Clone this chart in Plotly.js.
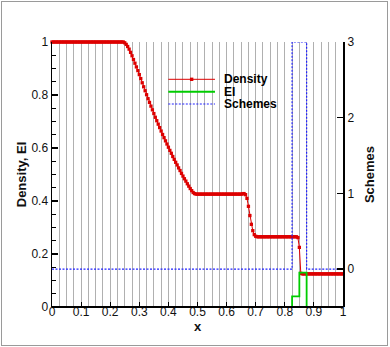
<!DOCTYPE html>
<html>
<head>
<meta charset="utf-8">
<script src="https://cdn.plot.ly/plotly-3.0.1.min.js"></script>
<style>
  html, body { margin: 0; padding: 0; background: #fff; }
  #wrap { position: relative; width: 390px; height: 347px; }
  #chart { width: 390px; height: 347px; }
  #frame { position: absolute; left: 1px; top: 1px; width: 385px; height: 343px; border: 1px solid #9a9a9a; pointer-events: none; }
</style>
</head>
<body>
<div id="wrap">
  <div id="chart"></div>
  <div id="frame"></div>
</div>
<script>
// Density on a uniform grid, x0 = 0, dx = 0.005 (201 cells)
const density = [
  1, 1, 1, 1, 1, 1, 1, 1, 1, 1,
  1, 1, 1, 1, 1, 1, 1, 1, 1, 1,
  1, 1, 1, 1, 1, 1, 1, 1, 1, 1,
  1, 1, 1, 1, 1, 1, 1, 1, 1, 1,
  1, 1, 1, 1, 1, 1, 1, 1, 1,
  1.0, 0.997, 0.991, 0.983, 0.973, 0.961, 0.948, 0.934, 0.920, 0.906,
  0.892, 0.877, 0.862, 0.846, 0.831, 0.816, 0.801, 0.786, 0.772, 0.758,
  0.744, 0.730, 0.716, 0.703, 0.690, 0.677, 0.664, 0.651, 0.639, 0.627,
  0.615, 0.603, 0.591, 0.580, 0.568, 0.557, 0.546, 0.536, 0.525, 0.515,
  0.504, 0.494, 0.484, 0.475, 0.465, 0.456, 0.447, 0.439, 0.432, 0.428,
  0.426,
  0.426, 0.426, 0.426, 0.426, 0.426, 0.426, 0.426, 0.426, 0.426, 0.426,
  0.426, 0.426, 0.426, 0.426, 0.426, 0.426, 0.426, 0.426, 0.426, 0.426,
  0.426, 0.426, 0.426, 0.426, 0.426, 0.426, 0.426, 0.426, 0.426, 0.426,
  0.426,
  0.427, 0.428, 0.424, 0.410, 0.380, 0.345, 0.312, 0.288, 0.273, 0.267,
  0.265, 0.265, 0.265, 0.265, 0.265, 0.265, 0.265, 0.265, 0.265, 0.265,
  0.265, 0.265, 0.265, 0.265, 0.265, 0.265, 0.265, 0.265, 0.265, 0.265,
  0.265, 0.265, 0.265, 0.265, 0.265, 0.265, 0.265, 0.265,
  0.262, 0.225, 0.127,
  0.125, 0.125, 0.125, 0.125, 0.125, 0.125, 0.125, 0.125, 0.125, 0.125,
  0.125, 0.125, 0.125, 0.125, 0.125, 0.125, 0.125, 0.125, 0.125, 0.125,
  0.125, 0.125, 0.125, 0.125, 0.125, 0.125, 0.125, 0.125, 0.125
];

// EI indicator (step values)
const eiX = [0, 0.825, 0.85, 0.875, 1];
const ei = [0, 0.04, 0.13, 0, 0];

// Scheme switch (step values, right axis)
const schemesX = [0, 0.825, 0.875, 1];
const schemes = [0, 3, 0, 0];

const xTicks = [0, 0.1, 0.2, 0.3, 0.4, 0.5, 0.6, 0.7, 0.8, 0.9, 1];

const RED = '#dd0000';
const GREEN = '#00cc00';
const BLUE = '#2222ff';
const FONT = 'Liberation Sans, Arial, Helvetica, sans-serif';

const traces = [
    {
        y: density, x0: 0, dx: 0.005,
        type: 'scatter', mode: 'lines+markers', name: 'Density',
        line: { color: RED, width: 1 },
        marker: { symbol: 'square', size: 3.3, color: RED },
        cliponaxis: false,
        xaxis: 'x', yaxis: 'y'
    },
    {
        x: eiX, y: ei,
        type: 'scatter', mode: 'lines', name: 'EI',
        line: { color: GREEN, width: 1.8, shape: 'hv' },
        xaxis: 'x', yaxis: 'y'
    },
    {
        x: schemesX, y: schemes,
        type: 'scatter', mode: 'lines', name: 'Schemes',
        line: { color: BLUE, width: 1.2, shape: 'hv', dash: '2px,1.5px' },
        xaxis: 'x', yaxis: 'y2'
    }
];

// hand-drawn legend in paper coordinates
const legX0 = 0.3997, legX1 = 0.5601, legText = 0.5887;
const legRows = [0.8592, 0.8125, 0.766];

const layout = {
    width: 390, height: 347,
    margin: { l: 52, r: 47, t: 42, b: 40 },
    paper_bgcolor: '#fff', plot_bgcolor: '#fff',
    font: { family: FONT, size: 12, color: '#111' },
    showlegend: false,
    xaxis: {
        range: [0, 1], tickvals: xTicks,
        ticks: 'inside', ticklen: 5, tickcolor: '#000', tickwidth: 1,
        ticklabelstandoff: -4,
        showline: false,
        showgrid: true, gridcolor: '#b0b0b0', gridwidth: 1,
        minor: { dtick: 0.025, showgrid: true, gridcolor: '#b0b0b0', gridwidth: 1 },
        zeroline: false, layer: 'above traces',
        title: { text: '<b>x</b>', font: { size: 13 }, standoff: 2 }
    },
    yaxis: {
        range: [0, 1], dtick: 0.2,
        ticks: 'inside', ticklen: 6, tickcolor: '#000', tickwidth: 1.5,
        minor: { dtick: 0.05, ticks: 'inside', ticklen: 3.5, tickcolor: '#000', tickwidth: 1 },
        showline: true, linecolor: '#000', linewidth: 1.5,
        showgrid: false, zeroline: false, layer: 'above traces',
        title: { text: '<b>Density, EI</b>', font: { size: 13 }, standoff: 2 }
    },
    yaxis2: {
        overlaying: 'y', side: 'right',
        range: [-0.5, 3], dtick: 1,
        ticks: 'inside', ticklen: 6, tickcolor: '#000', tickwidth: 1.5,
        showline: true, linecolor: '#000', linewidth: 2,
        showgrid: false, zeroline: false, layer: 'above traces',
        title: { text: '<b>Schemes</b>', font: { size: 13 }, standoff: 11 }
    },
    shapes: [
        // bottom frame line, drawn over the traces
        { type: 'line', xref: 'paper', yref: 'paper', x0: 0, x1: 1, y0: 0, y1: 0,
          line: { color: '#000', width: 2 }, layer: 'above' },
        { type: 'line', xref: 'paper', yref: 'paper', x0: legX0, x1: legX1, y0: legRows[0], y1: legRows[0],
          line: { color: RED, width: 1 } },
        { type: 'rect', xref: 'paper', yref: 'paper', xsizemode: 'pixel', ysizemode: 'pixel',
          xanchor: (legX0 + legX1) / 2, yanchor: legRows[0], x0: -1.7, x1: 1.7, y0: -1.7, y1: 1.7,
          fillcolor: RED, line: { width: 0 } },
        { type: 'line', xref: 'paper', yref: 'paper', x0: legX0, x1: legX1, y0: legRows[1], y1: legRows[1],
          line: { color: GREEN, width: 2 } },
        { type: 'line', xref: 'paper', yref: 'paper', x0: legX0, x1: legX1, y0: legRows[2], y1: legRows[2],
          line: { color: BLUE, width: 1.2, dash: '2px,1.5px' } }
    ],
    annotations: ['Density', 'EI', 'Schemes'].map((t, i) => ({
        text: '<b>' + t + '</b>', xref: 'paper', yref: 'paper', x: legText, y: legRows[i],
        xanchor: 'left', yanchor: 'middle', showarrow: false, borderpad: 0,
        font: { size: 12, color: '#000' }
    }))
};

Plotly.newPlot('chart', traces, layout, { staticPlot: true });
</script>
</body>
</html>
